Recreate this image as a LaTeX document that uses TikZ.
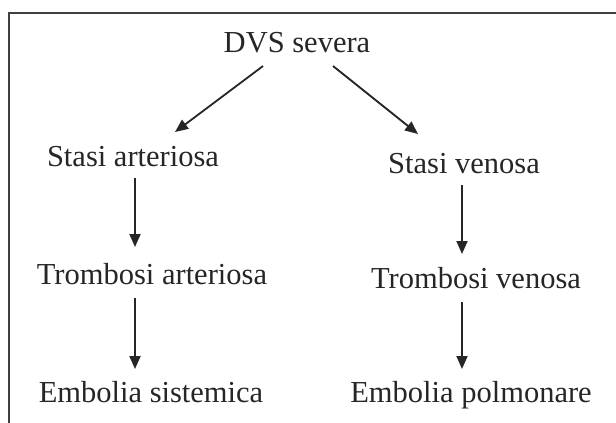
\documentclass[tikz,border=0pt]{standalone}
\usepackage{fontspec}
\setmainfont{Liberation Serif}
\usetikzlibrary{arrows.meta}
\begin{document}
\begin{tikzpicture}[x=1pt,y=-1pt,
  lbl/.style={anchor=base,inner sep=0pt,font=\fontsize{30.5}{34}\selectfont,text=black!85},
  arr/.style={draw=black!85,line width=1.8pt,-{Triangle[width=11pt,length=13pt]}}]
\useasboundingbox (0,0) rectangle (616,423);
\draw[line width=1.3pt,black!75] (9,423) -- (9,13) -- (616,13);
\node[lbl] (dvs) at (297,52) {DVS severa};
\node[lbl] (sa) at (133,166) {Stasi arteriosa};
\node[lbl] (sv) at (464,173) {Stasi venosa};
\node[lbl] (ta) at (152,284) {Trombosi arteriosa};
\node[lbl] (tv) at (476,288) {Trombosi venosa};
\node[lbl] (es) at (151,402) {Embolia sistemica};
\node[lbl] (ep) at (471,402) {Embolia polmonare};
\coordinate (d1) at (263,66);
\coordinate (d2) at (333,66);
\coordinate (sa1) at (175,132);
\coordinate (sv1) at (418,134);
\coordinate (a1) at (135,178);
\coordinate (a2) at (135,247);
\coordinate (a3) at (135,298);
\coordinate (a4) at (135,369);
\coordinate (b1) at (462,185);
\coordinate (b2) at (462,254);
\coordinate (b3) at (462,302);
\coordinate (b4) at (462,369);
\draw[arr] (d1) -- (sa1);
\draw[arr] (d2) -- (sv1);
\draw[arr] (a1) -- (a2);
\draw[arr] (a3) -- (a4);
\draw[arr] (b1) -- (b2);
\draw[arr] (b3) -- (b4);
\end{tikzpicture}
\end{document}
